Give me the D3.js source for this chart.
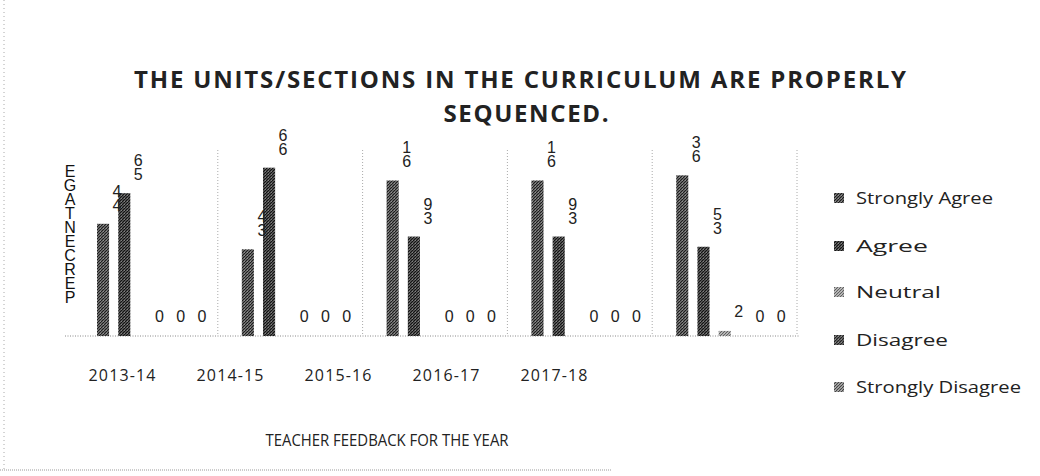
<!DOCTYPE html>
<html><head><meta charset="utf-8">
<script src="https://cdn.jsdelivr.net/npm/d3@7"></script>
<style>body{margin:0;background:#fff}svg{display:block}
.vert{writing-mode:vertical-rl;text-orientation:upright;}
</style>
</head><body><svg id="c" width="1040" height="476"></svg>
<script>
const categories = ["2013-14","2014-15","2015-16","2016-17","2017-18"];
const seriesNames = ["Strongly Agree","Agree","Neutral","Disagree","Strongly Disagree"];
const stronglyAgree = [44,34,61,61,63];
const agree = [56,66,39,39,35];
const neutral = [0,0,0,0,2];
const disagree = [0,0,0,0,0];
const stronglyDisagree = [0,0,0,0,0];
const titleLines = ["THE UNITS/SECTIONS IN THE CURRICULUM ARE PROPERLY","SEQUENCED."];
const yTitle = "PERCENTAGE";
const xTitle = "TEACHER FEEDBACK FOR THE YEAR";

const seriesValues = [stronglyAgree, agree, neutral, disagree, stronglyDisagree];
const fills = [["#666","#1c1c1c"],["#505050","#121212"],["#b0b0b0","#606060"],["#606060","#222"],["#999","#444"]];

const svg = d3.select("#c");
const defs = svg.append("defs");
fills.forEach((f,i)=>{
  const p = defs.append("pattern").attr("id","pat"+i).attr("patternUnits","userSpaceOnUse")
    .attr("width",3).attr("height",3);
  p.append("rect").attr("width",3).attr("height",3).attr("fill",f[0]);
  p.append("path").attr("d","M0,3L3,0").attr("stroke",f[1]).attr("stroke-width",1);
  p.append("rect").attr("x",1).attr("y",0).attr("width",1).attr("height",1).attr("fill","#ddd").attr("opacity",0.35);
});

// scan border
svg.append("line").attr("x1",4).attr("x2",4).attr("y1",0).attr("y2",470)
  .attr("stroke","#aaa").attr("stroke-dasharray","1,3");
svg.append("line").attr("x1",0).attr("x2",612).attr("y1",470).attr("y2",470)
  .attr("stroke","#999").attr("stroke-dasharray","1,1");

const x0 = d3.scaleBand().domain(categories).range([73,797]).paddingInner(0).paddingOuter(0);
const x1 = d3.scaleBand().domain(seriesNames).range([24,121]).paddingInner(0.43).paddingOuter(0);
const y = d3.scaleLinear().domain([0,100]).range([336,81]);
const xt = d3.scaleBand().domain(categories).range([68,608]);

// vertical dotted gridlines at category boundaries
const bounds = categories.slice(1).map(c=>x0(c)).concat([x0.range()[1]]);
svg.append("g").selectAll("line").data(bounds).join("line")
  .attr("x1",d=>d).attr("x2",d=>d).attr("y1",150).attr("y2",y(0))
  .attr("stroke","#aaa").attr("stroke-dasharray","1,2");

// baseline
svg.append("line").attr("x1",65).attr("x2",800).attr("y1",y(0)).attr("y2",y(0))
  .attr("stroke","#888").attr("stroke-dasharray","1,1.5");

// bars
const g = svg.append("g");
seriesNames.forEach((s,si)=>{
  g.append("g").selectAll("rect").data(seriesValues[si]).join("rect")
    .attr("x",(d,i)=>x0(categories[i])+x1(s))
    .attr("width",x1.bandwidth())
    .attr("y",d=>y(d))
    .attr("height",d=>y(0)-y(d))
    .attr("fill","url(#pat"+si+")");
});

// data labels (upright stacked digits, as in the reference)
seriesNames.forEach((s,si)=>{
  seriesValues[si].forEach((v,i)=>{
    const cx = x0(categories[i])+x1(s)+x1.bandwidth()/2+14;
    const str = String(v).split("").reverse().join("");
    const h = str.length*13;
    svg.append("text").attr("class","vert")
      .attr("font-family","Liberation Sans, Arial, sans-serif")
      .attr("font-size",16).attr("fill","#222")
      .attr("letter-spacing",-3)
      .attr("x",cx).attr("y",y(v)-15-h).text(str);
  });
});

// x tick labels
const ax = svg.append("g").attr("transform","translate(0,370)")
  .call(d3.axisBottom(xt).tickSize(0).tickPadding(0));
ax.select(".domain").remove();
ax.selectAll("text").attr("font-family","Open Sans, sans-serif").attr("font-size",16)
  .attr("fill","#222").attr("dy","0.71em").attr("textLength",67).attr("lengthAdjust","spacing");

// title
svg.append("text").attr("x",520).attr("y",88).attr("text-anchor","middle")
  .attr("font-family","Open Sans, sans-serif").attr("font-weight",700).attr("font-size",24)
  .attr("fill","#222").attr("textLength",772).attr("lengthAdjust","spacing").text(titleLines[0]);
svg.append("text").attr("x",526).attr("y",122).attr("text-anchor","middle")
  .attr("font-family","Open Sans, sans-serif").attr("font-weight",700).attr("font-size",24)
  .attr("fill","#222").attr("textLength",165).attr("lengthAdjust","spacing").text(titleLines[1]);

// y title as upright stacked letters (reversed, as in reference)
svg.append("text").attr("class","vert")
  .attr("font-family","Liberation Sans, Arial, sans-serif")
  .attr("font-size",16).attr("fill","#111").attr("letter-spacing",-3)
  .attr("x",70).attr("y",163).text(yTitle.split("").reverse().join(""));

// x title
svg.append("text").attr("x",387).attr("y",446).attr("text-anchor","middle")
  .attr("font-family","Open Sans, sans-serif").attr("font-size",17).attr("fill","#222")
  .attr("textLength",243).attr("lengthAdjust","spacingAndGlyphs").text(xTitle);

// legend
const legY = [198,246,292,340,387];
const lw = [137,72,85,92,165];
const leg = svg.append("g");
seriesNames.forEach((s,i)=>{
  leg.append("rect").attr("x",834).attr("y",legY[i]-5).attr("width",10).attr("height",10)
    .attr("fill","url(#pat"+i+")");
  leg.append("text").attr("x",856).attr("y",legY[i]+6)
    .attr("font-family","Open Sans, sans-serif").attr("font-size",17).attr("fill","#222")
    .attr("textLength",lw[i]).attr("lengthAdjust","spacingAndGlyphs").text(s);
});
</script></body></html>
